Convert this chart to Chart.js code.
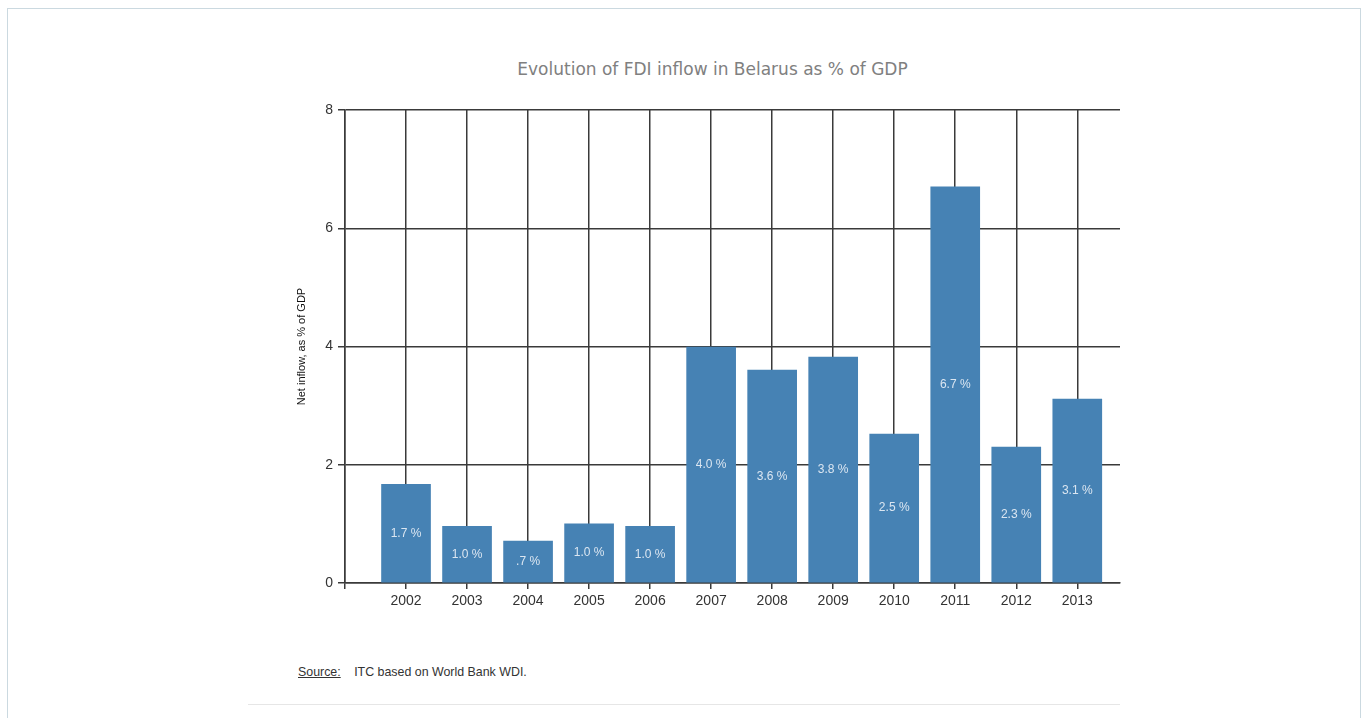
<!DOCTYPE html>
<html>
<head>
<meta charset="utf-8">
<script src="https://cdn.jsdelivr.net/npm/chart.js@4.4.1/dist/chart.umd.min.js"></script>
<style>
  html, body { margin: 0; padding: 0; background: #fff; width: 1367px; height: 718px; overflow: hidden; }
  .frame { position: absolute; left: 7px; top: 8px; width: 1352px; height: 760px; border: 1.5px solid #cbd9e0; border-bottom: none; }
  .title { position: absolute; left: 345px; width: 735px; top: 59px; text-align: center; font: 17px "DejaVu Sans", sans-serif; color: #808080; }
  .chart-box { position: absolute; left: 240px; top: 40px; width: 890px; height: 573px; }
  .source { position: absolute; left: 298px; top: 665px; font: 12.4px "Liberation Sans", Arial, sans-serif; color: #333; }
  .source u { margin-right: 10px; }
  .rule { position: absolute; left: 248px; top: 704px; width: 872px; height: 1px; background: #e6e6e6; }
</style>
</head>
<body>
<div class="frame"></div>
<div class="title">Evolution of FDI inflow in Belarus as % of GDP</div>
<div class="chart-box"><canvas id="fdiChart"></canvas></div>
<div class="source"><u>Source:</u> ITC based on World Bank WDI.</div>
<div class="rule"></div>

<script>
const years = [2002, 2003, 2004, 2005, 2006, 2007, 2008, 2009, 2010, 2011, 2012, 2013];
const fdiShare = [1.67, 0.96, 0.71, 1.0, 0.96, 3.99, 3.6, 3.82, 2.52, 6.7, 2.3, 3.11];
const barLabels = ['1.7 %', '1.0 %', '.7 %', '1.0 %', '1.0 %', '4.0 %', '3.6 %', '3.8 %', '2.5 %', '6.7 %', '2.3 %', '3.1 %'];
const yTicks = [0, 2, 4, 6, 8];

const GRID = '#3a3a3a';

// labels in the middle of each bar
const barLabelPlugin = {
  id: 'barLabels',
  afterDatasetsDraw(chart) {
    const { ctx } = chart;
    const meta = chart.getDatasetMeta(0);
    ctx.save();
    ctx.font = '12px "Liberation Sans", Arial, sans-serif';
    ctx.fillStyle = '#dbe6f1';
    ctx.textAlign = 'center';
    ctx.textBaseline = 'middle';
    meta.data.forEach((bar, i) => {
      ctx.fillText(barLabels[i], bar.x, (bar.y + bar.base) / 2);
    });
    ctx.restore();
  }
};

new Chart(document.getElementById('fdiChart'), {
  type: 'bar',
  data: {
    datasets: [{
      data: years.map((y, i) => ({ x: y, y: fdiShare[i] })),
      backgroundColor: '#4682b4',
      borderWidth: 0,
      barThickness: 49,
    }],
  },
  options: {
    responsive: true,
    maintainAspectRatio: false,
    animation: false,
    layout: { padding: { top: 70, right: 10, bottom: 0, left: 0 } },
    plugins: { legend: { display: false }, tooltip: { enabled: false }, title: { display: false } },
    scales: {
      x: {
        type: 'linear',
        min: 2001,
        max: 2013.7,
        offset: false,
        afterBuildTicks: s => { s.ticks = [2001, ...years].map(v => ({ value: v })); },
        afterFit: s => { s.height = 30; },
        grid: { offset: false, color: GRID, lineWidth: 1.5, tickLength: 6 },
        border: { color: GRID, width: 1.5 },
        ticks: {
          autoSkip: false,
          maxRotation: 0,
          padding: 4,
          color: '#333',
          font: { family: '"Liberation Sans", Arial, sans-serif', size: 14 },
          callback: v => (v === 2001 ? '' : String(v)),
        },
      },
      y: {
        min: 0,
        max: 8,
        afterBuildTicks: s => { s.ticks = yTicks.map(v => ({ value: v })); },
        afterFit: s => { s.width = 105; },
        grid: { color: GRID, lineWidth: 1.5, tickLength: 7 },
        border: { color: GRID, width: 1.5 },
        ticks: {
          padding: 5,
          color: '#333',
          font: { family: '"Liberation Sans", Arial, sans-serif', size: 14 },
        },
        title: {
          display: true,
          text: 'Net inflow, as % of GDP',
          color: '#111',
          padding: { top: 55, bottom: 0 },
          font: { family: '"Liberation Sans", Arial, sans-serif', size: 11 },
        },
      },
    },
  },
  plugins: [barLabelPlugin],
});
</script>
</body>
</html>
